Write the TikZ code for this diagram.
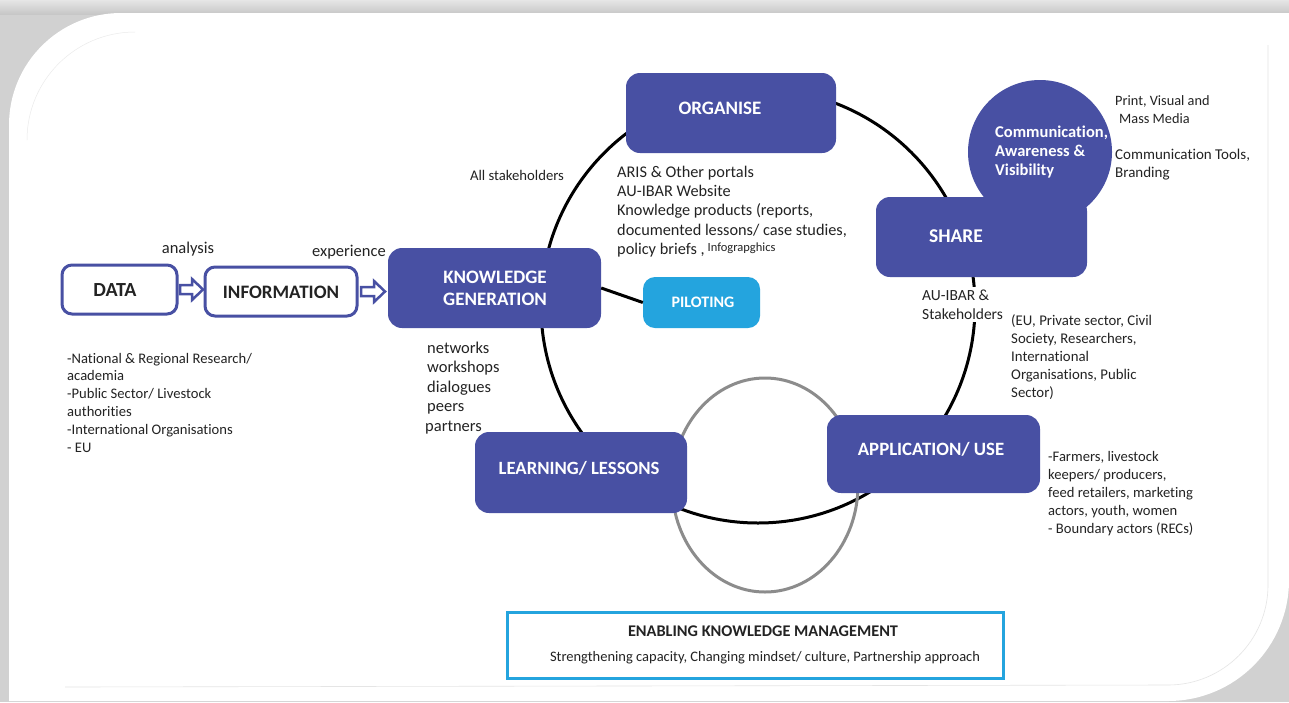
\documentclass[tikz,border=0pt]{standalone}
\usepackage{fontspec}
\setmainfont{Carlito}[Ligatures=NoCommon]
\usetikzlibrary{calc}
\definecolor{kmblue}{RGB}{72,80,163}
\definecolor{kmcyan}{RGB}{36,164,222}
\definecolor{kmtext}{RGB}{35,35,35}
\definecolor{kmgray}{RGB}{140,140,140}
\tikzset{
  bluebox/.style={draw=none,fill=kmblue,rounded corners=14pt,minimum width=#1,inner sep=0pt},
  boxtitle/.style={text=white,font=\bfseries\fontsize{19}{22}\selectfont,align=center},
  outlinebox/.style={draw=kmblue,line width=3pt,fill=white,rounded corners=10pt,inner sep=0pt},
  blockarrow/.style={draw=kmblue,line width=2.5pt,fill=white,line join=miter},
  lbl/.style={text=kmtext,inner sep=0pt},
  listtext/.style={text=kmtext,inner sep=0pt,anchor=base west,align=left},
}
\begin{document}
\begin{tikzpicture}[x=1pt,y=-1pt]
\useasboundingbox (0,0) rectangle (1289,702);
% background frame
\fill[black!18] (0,0) rectangle (1289,702);
\shade[top color=black!10,bottom color=black!22] (0,0) rectangle (1289,14);
\fill[white] (9,125) arc[start angle=180,end angle=270,radius=112] -- (1289,13) -- (1289,580)
  arc[start angle=0,end angle=90,radius=121] -- (9,701) -- cycle;
\draw[black!10,line width=0.6pt] (1268,45) -- (1268,585) arc[start angle=0,end angle=90,radius=100] -- (65,687);
\draw[black!8,line width=0.5pt] (27,140) arc[start angle=180,end angle=270,radius=108];

% cycles
\draw[line width=3pt,black] (758,306) circle[radius=217];
\draw[line width=3pt,kmgray] (765,485) ellipse[x radius=93,y radius=107];

% left chain
\node[outlinebox,minimum width=115pt,minimum height=49pt] (data) at (119.5,289.5) {};
\node[lbl,font=\bfseries\fontsize{20}{22}\selectfont] (datat) at (115,290) {DATA};
\node[outlinebox,minimum width=152pt,minimum height=49pt] (info) at (281,291.5) {};
\node[lbl,font=\bfseries\fontsize{19}{22}\selectfont] (infot) at (281,292) {INFORMATION};

% blue boxes
\node[bluebox=213pt,minimum height=80pt] (kg) at (494.5,288) {};
\node[boxtitle] (kgt) at (495,288) {KNOWLEDGE\\GENERATION};
\node[fill=kmcyan,rounded corners=12pt,minimum width=117pt,minimum height=51pt,inner sep=0pt] (pil) at (701.5,302.5) {};
\node[lbl,text=white,font=\bfseries\fontsize{16}{18}\selectfont] (pilt) at (703,302) {PILOTING};
\draw[line width=3pt,black] (kg.east) -- (pil.west);

\node[bluebox=210pt,minimum height=80pt] (org) at (731,113) {};
\node[boxtitle,font=\bfseries\fontsize{19}{22}\selectfont] (orgt) at (720,108) {ORGANISE};

\node[circle,fill=kmblue,minimum size=144pt,inner sep=0pt] (comm) at (1040,152) {};
\node[lbl,text=white,font=\bfseries\fontsize{16.5}{19}\selectfont,align=left,anchor=west] (commt) at (995,152) {Communication,\\Awareness \&\\Visibility};

\node[bluebox=211pt,minimum height=80pt] (share) at (981.5,237) {};
\node[boxtitle,font=\bfseries\fontsize{19.5}{22}\selectfont] (sharet) at (956,236) {SHARE};

\node[bluebox=213pt,minimum height=78pt] (app) at (933.5,454) {};
\node[boxtitle,font=\bfseries\fontsize{18.8}{22}\selectfont] (appt) at (931,449) {APPLICATION/ USE};

\node[bluebox=212pt,minimum height=81pt] (learn) at (581,472.5) {};
\node[boxtitle,font=\bfseries\fontsize{18.7}{22}\selectfont] (learnt) at (579,468) {LEARNING/ LESSONS};

% arrows
\draw[blockarrow] (data.east) ++(1.5,-4.5) -- ++(12,0) -- ++(0,-6) -- ++(11,10.5) -- ++(-11,10.5) -- ++(0,-6) -- ++(-12,0) -- cycle;
\draw[blockarrow] (info.east) ++(2.5,-4.5) -- ++(13,0) -- ++(0,-6) -- ++(11,10.5) -- ++(-11,10.5) -- ++(0,-6) -- ++(-13,0) -- cycle;

% labels
\node[lbl,font=\fontsize{16.5}{19}\selectfont] (analysis) at (188,249) {analysis};
\node[lbl,font=\fontsize{16.5}{19}\selectfont] (experience) at (349,252) {experience};
\node[lbl,font=\fontsize{14.7}{17}\selectfont] (allst) at (517,175) {All stakeholders};

\node[listtext,font=\fontsize{16.3}{19.3}\selectfont] (orglist) at (617,254.5) {ARIS \& Other portals\\AU-IBAR Website\\Knowledge products (reports,\\documented lessons/ case studies,\\policy briefs ,\hspace{3pt}{\fontsize{12.5}{13}\selectfont\raisebox{3pt}{Infograpghics}}};

\node[listtext,font=\fontsize{14.3}{18}\selectfont] (print) at (1115,123.5) {Print, Visual and\\\hspace*{4pt}Mass Media};
\node[listtext,font=\fontsize{15}{18}\selectfont] (tools) at (1115,177.5) {Communication Tools,\\Branding};

\node[listtext,font=\fontsize{15.5}{19}\selectfont,fill=white,inner sep=2.5pt] (auibar) at (919.5,319) {AU-IBAR \&\\Stakeholders};
\node[listtext,font=\fontsize{14.8}{18}\selectfont] (eu) at (1011,397) {(EU, Private sector, Civil\\Society, Researchers,\\International\\Organisations, Public\\Sector)};

\node[listtext,font=\fontsize{14.6}{18}\selectfont] (farm) at (1048,533) {-Farmers, livestock\\keepers/ producers,\\feed retailers, marketing\\actors, youth, women\\- Boundary actors (RECs)};

\node[listtext,font=\fontsize{16.5}{19.5}\selectfont] (net) at (427,431) {networks\\workshops\\dialogues\\peers\\\hspace*{-2pt}partners};

\node[listtext,font=\fontsize{14.6}{17.8}\selectfont] (src) at (67,452) {-National \& Regional Research/\\academia\\-Public Sector/ Livestock\\authorities\\-International Organisations\\- EU};

% enabling
\node[draw=kmcyan,line width=3pt,minimum width=496pt,minimum height=66pt,inner sep=0pt,fill=white] (enab) at (755,645) {};
\node[lbl,font=\bfseries\fontsize{16.3}{19}\selectfont] (enabt) at (763,631) {ENABLING KNOWLEDGE MANAGEMENT};
\node[lbl,font=\fontsize{14.5}{17}\selectfont] (enabs) at (765,658) {Strengthening capacity, Changing mindset/ culture, Partnership approach};
\end{tikzpicture}
\end{document}
